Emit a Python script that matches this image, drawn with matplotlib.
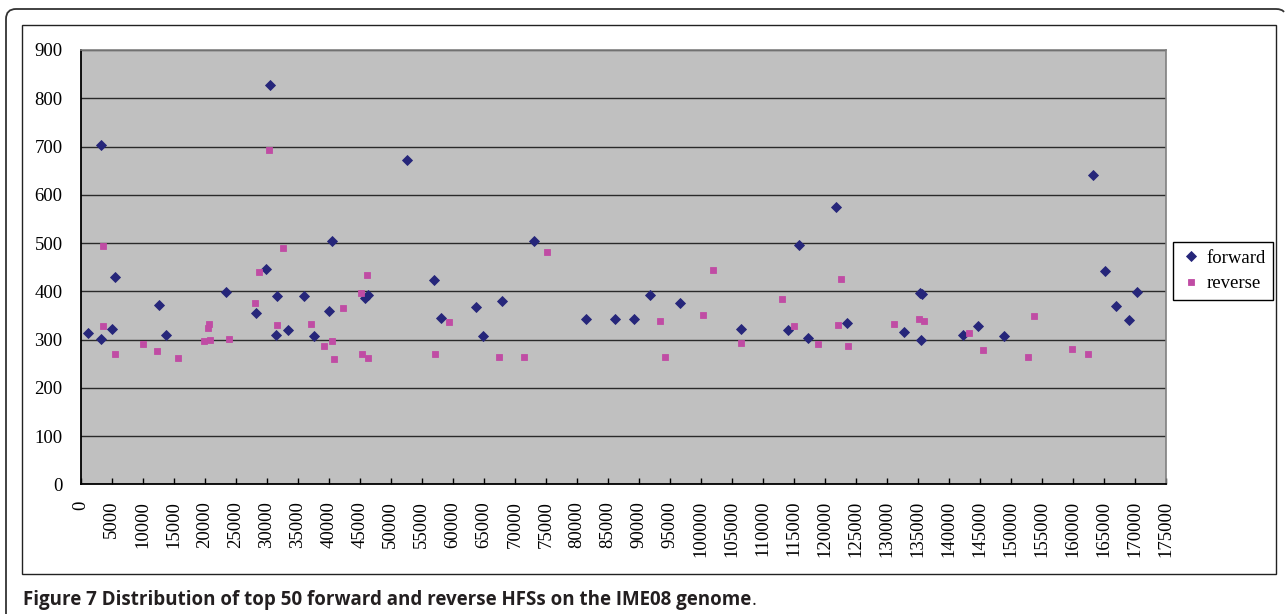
import matplotlib
matplotlib.use("Agg")
import matplotlib.pyplot as plt
from matplotlib.patches import Rectangle
from matplotlib.path import Path
from matplotlib.patches import PathPatch
import numpy as np

# ---- data (genome position, HFS value) ----
forward_x = [1130, 3225, 3270, 5530, 5100, 12680, 13700, 23430, 28220, 29930,
             30580, 31700, 31490, 33430, 36010, 37570, 39990, 40470,
             45900, 46300, 52570, 57020, 58100, 63690, 64920, 67980, 73090,
             81530, 86210, 89220,
             91750, 96690, 106520, 114100, 115880, 117230, 121790, 123620, 132710,
             135330, 135700, 135550, 142270, 144690, 148880, 163290, 165120,
             166890, 169090, 170330]
forward_y = [314, 301, 704, 430, 322, 372, 309, 398, 356, 446,
             827, 390, 310, 320, 390, 307, 359, 505,
             386, 393, 673, 423, 345, 368, 307, 380, 505,
             343, 342, 343,
             392, 375, 322, 320, 495, 303, 575, 335, 316,
             397, 394, 298, 310, 329, 307, 641, 443,
             370, 340, 398]

reverse_x = [3650, 3650, 5480, 10050, 12250, 15690, 19830, 20480, 20640, 20800,
             23860, 28110, 28800, 30410, 31700, 32670, 37190, 39230, 40520, 40890,
             42300,
             45150, 46170, 45310, 46330, 57180, 59390, 67500, 71530, 75240,
             93460, 94270, 100350, 102010, 106420, 113030, 115070, 118940,
             122550, 122170, 123780, 131100,
             135230, 136030, 143240, 145440, 152750, 153720, 159900, 162430]
reverse_y = [493, 329, 269, 290, 276, 261, 297, 323, 332, 300,
             302, 376, 440, 692, 330, 490, 332, 287, 297, 260,
             365,
             396, 433, 269, 261, 270, 337, 264, 264, 481,
             339, 264, 351, 445, 293, 383, 329, 291,
             425, 330, 286, 333,
             343, 338, 313, 278, 263, 348, 280, 269]

x_ticks = list(range(0, 175001, 5000))
y_ticks = list(range(0, 901, 100))
series_names = ["forward", "reverse"]
caption_bold = "Figure 7 Distribution of top 50 forward and reverse HFSs on the IME08 genome"

W, H = 1287, 614
fig = plt.figure(figsize=(W / 100, H / 100), dpi=100)
fig.patch.set_facecolor("white")

serif = ["Liberation Serif", "DejaVu Serif"]

# outer rounded frame (open at bottom)
def fx(px): return px / W
def fy(py): return 1 - py / H
r = 10
verts = [(fx(6), fy(H + 5)), (fx(6), fy(9 + r)), (fx(6), fy(9)), (fx(6 + r), fy(9)),
         (fx(1276), fy(9)), (fx(1282), fy(9)), (fx(1284), fy(12))]
codes = [Path.MOVETO, Path.LINETO, Path.CURVE3, Path.CURVE3, Path.LINETO, Path.CURVE3, Path.CURVE3]
fig.patches.append(PathPatch(Path(verts, codes), transform=fig.transFigure,
                             fill=False, edgecolor="#333333", lw=1.3))
# inner chart frame
fig.patches.append(Rectangle((fx(22), fy(573.5)), fx(1276) - fx(22), fy(25) - fy(573.5),
                             transform=fig.transFigure, fill=False,
                             edgecolor="#222222", lw=1.0))

ax = fig.add_axes([80.7 / W, 1 - 484.3 / H, (1166 - 80.7) / W, (484.3 - 50) / H])
ax.set_facecolor("#C0C0C0")
ax.set_xlim(0, 175000)
ax.set_ylim(0, 900)
ax.set_xticks(x_ticks)
ax.set_xticklabels([str(v) for v in x_ticks], rotation=90, fontfamily=serif, fontsize=13.5)
ax.set_yticks(y_ticks)
ax.set_yticklabels([str(v) for v in y_ticks], fontfamily=serif, fontsize=13.5)
ax.tick_params(axis="x", direction="in", length=4.5, width=1, color="black", pad=12)
ax.tick_params(axis="y", length=0, pad=13)
ax.yaxis.grid(True, color="#2a2a2a", lw=1.0)
ax.set_axisbelow(True)
for s in ["left", "bottom"]:
    ax.spines[s].set_color("black")
    ax.spines[s].set_linewidth(1.3)
for s in ["top", "right"]:
    ax.spines[s].set_color("#808080")
    ax.spines[s].set_linewidth(1.2)

ax.plot(forward_x, forward_y, "D", color="#26267A", markersize=5.6,
        markeredgewidth=0.6, markeredgecolor="#26267A", label=series_names[0],
        clip_on=False, zorder=3)
ax.plot(reverse_x, reverse_y, "s", color="#C04CA4", markersize=5.0,
        markeredgewidth=0.6, markeredgecolor="#C04CA4", label=series_names[1],
        clip_on=False, zorder=3)

leg = ax.legend(loc="upper left", bbox_to_anchor=((1172.7 - 80.7) / (1166 - 80.7), (484.3 - 242.3) / (484.3 - 50)),
                prop={"family": serif, "size": 13.5}, frameon=True, fancybox=False,
                edgecolor="black", framealpha=1, borderpad=0.4, handletextpad=0.2,
                handlelength=1.2, labelspacing=0.45, borderaxespad=0)
leg.get_frame().set_linewidth(1.0)

# caption
cap_font = ["Open Sans", "DejaVu Sans"]
t = fig.text(23 / W, 1 - 605 / H, caption_bold, fontfamily=cap_font,
             fontweight="bold", fontsize=13.5, color="#231F20", va="baseline")
fig.canvas.draw()
bb = t.get_window_extent()
fig.text(bb.x1 / W, 1 - 605 / H, ".", fontfamily=cap_font,
         fontsize=13.5, color="#231F20", va="baseline")

fig.savefig("out.png", dpi=100, facecolor="white")
